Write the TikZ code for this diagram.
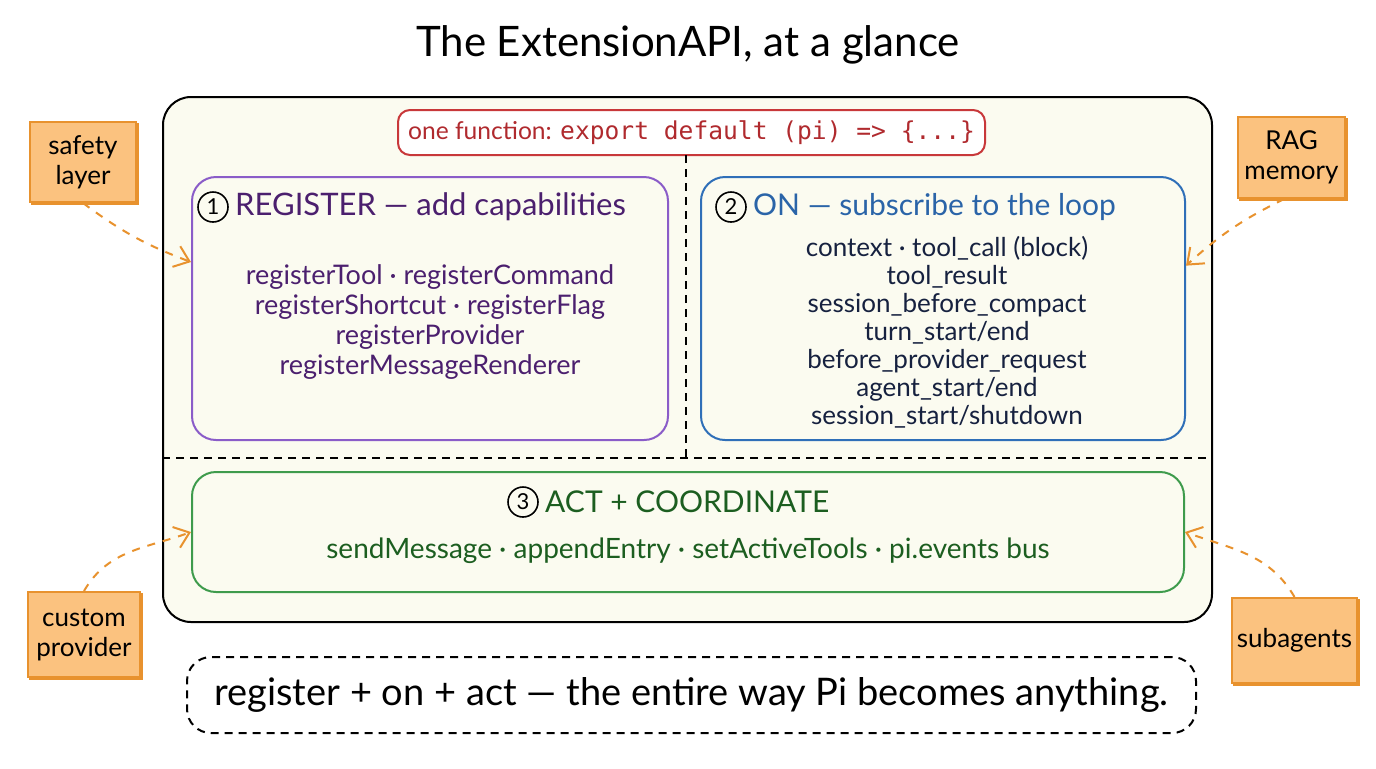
\documentclass[tikz,border=0pt]{standalone}
\usepackage{fontspec}
\setmainfont{Lato}
\setmonofont{DejaVu Sans Mono}
\usetikzlibrary{positioning,arrows.meta,shadows}

\definecolor{paper}{HTML}{FBFBF0}
\definecolor{redline}{HTML}{C8383A}
\definecolor{redtext}{HTML}{B02A2E}
\definecolor{purpline}{HTML}{8A5CC8}
\definecolor{purptext}{HTML}{4B1F6E}
\definecolor{blueline}{HTML}{2F6FB8}
\definecolor{bluetext}{HTML}{2A64A8}
\definecolor{navytext}{HTML}{16213F}
\definecolor{greenline}{HTML}{3E9B4C}
\definecolor{greentext}{HTML}{1C5E20}
\definecolor{noteline}{HTML}{E8922E}
\definecolor{notefill}{HTML}{FBC27F}

\tikzset{
  box/.style={draw, line width=1pt, rounded corners=12pt, inner sep=0pt},
  sticky/.style={draw=noteline, fill=notefill, line width=1pt, align=center, inner sep=0pt,
    font=\fontsize{13}{15}\selectfont, copy shadow={shadow xshift=1pt, shadow yshift=-1pt}},
  num/.style={draw, circle, line width=0.8pt, inner sep=0pt, minimum size=15pt,
    font=\fontsize{11}{11}\selectfont, text=black},
  sep/.style={line width=0.8pt, dash pattern=on 4pt off 3pt},
  feed/.style={draw=noteline, line width=1pt, dash pattern=on 4pt off 4pt,
    -{Straight Barb[length=7pt,width=11pt]}},
  head/.style={font=\fontsize{15.5}{18}\selectfont, inner sep=0pt},
  body/.style={align=center, font=\fontsize{13}{14}\selectfont}
}

\begin{document}
\begin{tikzpicture}[x=0.5pt,y=-0.5pt]
\useasboundingbox[fill=white] (0,0) rectangle (1376,768);

\node[font=\fontsize{21}{24}\selectfont] (title) at (688,45) {The ExtensionAPI, at a glance};

\node[box, fill=paper, rounded corners=14pt, minimum width=524.5pt, minimum height=262.5pt] (panel) at (687.5,359.5) {};
\node[box, draw=redline, fill=white, rounded corners=6pt, minimum width=293.5pt, minimum height=22.5pt,
  text=redtext, font=\fontsize{12.3}{14}\selectfont] (fn) at (691.5,132.5) {one function: \texttt{export default (pi) => \{...\}}};

\coordinate (vtop) at (686,155);
\coordinate (vbot) at (686,458);
\draw[sep] (vtop) -- (vbot);
\draw[sep] (panel.west |- vbot) -- (panel.east |- vbot);

% register
\node[box, draw=purpline, minimum width=238pt, minimum height=131.5pt] (reg) at (430,308.5) {};
\node[num] (n1) at (213,207) {1};
\node[head, text=purptext, right=3pt of n1] (reghead) {REGISTER — add capabilities};
\node[body, text=purptext, font=\fontsize{13.5}{15}\selectfont] (regbody) at (430,322.5)
  {registerTool · registerCommand\\registerShortcut · registerFlag\\registerProvider\\registerMessageRenderer};

% on
\node[box, draw=blueline, minimum width=242pt, minimum height=131.5pt] (on) at (943,308.5) {};
\node[num] (n2) at (731,207) {2};
\node[head, text=bluetext, font=\fontsize{15}{18}\selectfont, right=3pt of n2] (onhead) {ON — subscribe to the loop};
\node[body, text=navytext] (onbody) at (947,332)
  {context · tool\_call (block)\\tool\_result\\session\_before\_compact\\turn\_start/end\\before\_provider\_request\\agent\_start/end\\session\_start/shutdown};

% act
\node[box, draw=greenline, minimum width=496pt, minimum height=60pt] (act) at (688,532) {};
\node[num] (n3) at (523,502) {3};
\node[head, text=greentext, font=\fontsize{15}{18}\selectfont, right=3pt of n3] (acthead) {ACT + COORDINATE};
\node[body, text=greentext, font=\fontsize{14}{16}\selectfont] (actbody) at (688,551) {sendMessage · appendEntry · setActiveTools · pi.events bus};

\node[box, dashed, dash pattern=on 4pt off 3pt, minimum width=504.5pt, minimum height=38pt,
  font=\fontsize{19}{22}\selectfont] (motto) at (691.5,695) {register + on + act — the entire way Pi becomes anything.};

% extension points
\node[sticky, minimum width=53pt, minimum height=40pt] (safety) at (83,162) {safety\\layer};
\node[sticky, minimum width=53.5pt, minimum height=40.5pt] (rag) at (1291.5,157.5) {RAG\\memory};
\node[sticky, minimum width=56pt, minimum height=42.5pt] (custom) at (84,634.5) {custom\\provider};
\node[sticky, minimum width=62.5pt, minimum height=42.5pt] (subagents) at (1294.5,640.5) {subagents};

\draw[feed] (safety.south) to[bend right=8] (reg.169);
\draw[feed] (rag.260) to[bend right=8] (on.10);
\draw[feed] (custom.north) to[out=60,in=200] (act.west);
\draw[feed] (subagents.north) to[out=120,in=-20] (act.east);
\end{tikzpicture}
\end{document}
